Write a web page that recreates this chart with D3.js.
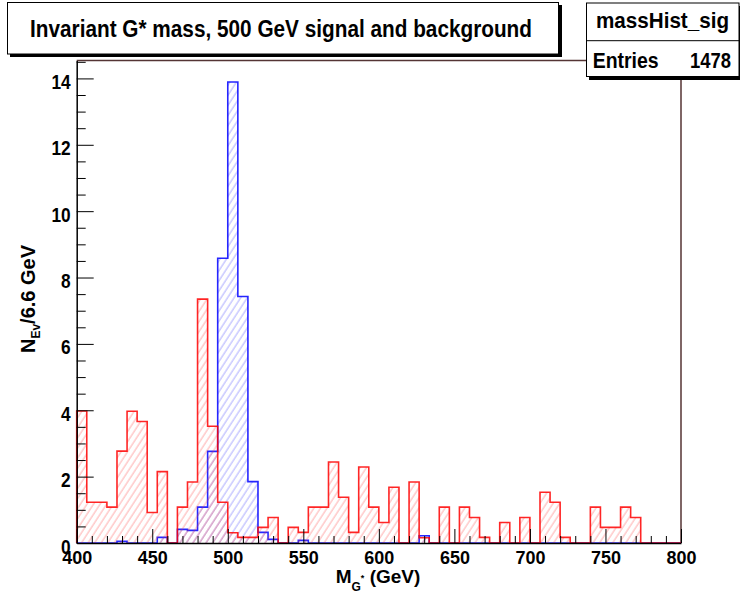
<!DOCTYPE html>
<html>
<head>
<meta charset="utf-8">
<script src="https://cdn.jsdelivr.net/npm/d3@7"></script>
<style>
  body { margin: 0; background: #fff; }
  svg { display: block; font-family: "Liberation Sans", Arial, Helvetica, sans-serif; font-weight: bold; }
</style>
</head>
<body>
<div id="chart"></div>
<script>
// histogram setup: 60 bins from 400 to 800 GeV
var xMin = 400, xMax = 800, nBins = 60;

// signal (blue), one value per bin
var sigValues = [
  0, 0, 0, 0, 0.05, 0, 0, 0, 0.17, 0,
  0.41, 0.38, 1.08, 2.76, 8.58, 13.89, 7.43, 1.85, 0.32, 0.11,
  0, 0, 0.08, 0, 0, 0, 0, 0, 0, 0,
  0, 0, 0, 0, 0.22, 0, 0, 0, 0, 0,
  0, 0, 0, 0, 0, 0, 0, 0, 0, 0,
  0, 0, 0, 0, 0, 0, 0, 0, 0, 0
];

// background (red), one value per bin
var bkgValues = [
  3.98, 1.23, 1.23, 1.08, 2.77, 3.97, 3.66, 0.92, 2.15, 0,
  1.08, 1.84, 7.35, 3.52, 1.23, 0.31, 0.17, 0.17, 0.47, 0.77,
  0, 0.47, 0.32, 1.08, 1.08, 2.44, 1.38, 0.32, 2.29, 1.08,
  0.62, 1.68, 0, 1.84, 0.16, 0, 1.08, 0, 1.08, 0.77,
  0.17, 0, 0.62, 0, 0.77, 0, 1.53, 1.23, 0.17, 0,
  0, 1.08, 0.47, 0.47, 1.08, 0.77, 0, 0, 0, 0
];

var xTicks = [400, 450, 500, 550, 600, 650, 700, 750, 800];
var yTicks = [0, 2, 4, 6, 8, 10, 12, 14];

var titleText = "Invariant G* mass, 500 GeV signal and background";
var statsName = "massHist_sig";
var statsEntries = 1478;

// set the dimensions of the frame
var W = 740, H = 599;
var frame = {left: 76.7, right: 681, top: 60.5, bottom: 543};

var svg = d3.select("#chart")
  .append("svg")
    .attr("width", W)
    .attr("height", H);

var x = d3.scaleLinear()
  .domain([xMin, xMax])
  .range([frame.left, frame.right]);

var y = d3.scaleLinear()
  .domain([0, 14.54])
  .range([frame.bottom, frame.top]);

// hatch patterns
var defs = svg.append("defs");
function hatch(id, color) {
  defs.append("pattern")
    .attr("id", id)
    .attr("patternUnits", "userSpaceOnUse")
    .attr("width", 5.5)
    .attr("height", 10)
    .attr("patternTransform", "rotate(33)")
  .append("line")
    .attr("x1", 1).attr("y1", 0)
    .attr("x2", 1).attr("y2", 10)
    .attr("stroke", color)
    .attr("stroke-width", 1);
}
hatch("hatchBlue", "rgba(60,60,255,0.42)");
hatch("hatchRed", "rgba(255,60,60,0.42)");

// turn bin values into step points
var binW = (xMax - xMin) / nBins;
function stepPoints(vals) {
  var pts = [[xMin, 0]];
  vals.forEach(function(v, i) {
    pts.push([xMin + i * binW, v]);
    pts.push([xMin + (i + 1) * binW, v]);
  });
  pts.push([xMax, 0]);
  return pts;
}

var area = d3.area()
  .x(function(d) { return x(d[0]); })
  .y0(y(0))
  .y1(function(d) { return y(d[1]); });

var line = d3.line()
  .x(function(d) { return x(d[0]); })
  .y(function(d) { return y(d[1]); });

// frame top/right
svg.append("path")
  .attr("d", "M" + frame.left + "," + frame.top + "H" + frame.right + "V" + frame.bottom)
  .attr("fill", "none")
  .attr("stroke", "#553535")
  .attr("stroke-width", 1.5);

// signal first, background on top
[[sigValues, "hatchBlue", "#0000ff"], [bkgValues, "hatchRed", "#ff0000"]].forEach(function(h) {
  var pts = stepPoints(h[0]);
  svg.append("path")
    .attr("d", area(pts))
    .attr("fill", "url(#" + h[1] + ")");
  svg.append("path")
    .attr("d", line(pts))
    .attr("fill", "none")
    .attr("stroke", h[2])
    .attr("stroke-width", 1.6)
    .attr("stroke-opacity", 0.85);
});

// Y axis - major + minor ticks pointing inward
var yMinor = d3.range(0, 14.51, 0.5).filter(function(v) { return v % 2 !== 0; });
svg.append("g")
  .attr("transform", "translate(" + frame.left + ",0)")
  .call(d3.axisLeft(y).tickValues(yMinor).tickSize(-9).tickSizeOuter(0).tickFormat(""))
  .call(function(g) { g.select(".domain").remove(); });

var yAxis = svg.append("g")
  .attr("transform", "translate(" + frame.left + ",0)")
  .call(d3.axisLeft(y).tickValues(yTicks).tickSize(-17).tickSizeOuter(0).tickPadding(6));
yAxis.select(".domain").attr("stroke-width", 1.5);
yAxis.selectAll("text")
  .attr("font-size", "20px")
  .attr("font-weight", "bold")
  .attr("font-family", "Liberation Sans, Arial, sans-serif")
  .attr("fill", "#000")
  .attr("dy", 10)
  .attr("textLength", function(d) { return String(d).length * 9.6; })
  .attr("lengthAdjust", "spacingAndGlyphs");

// X axis
var xMinor = d3.range(410, 800, 10).filter(function(v) { return v % 50 !== 0; });
svg.append("g")
  .attr("transform", "translate(0," + frame.bottom + ")")
  .call(d3.axisBottom(x).tickValues(xMinor).tickSize(-7).tickSizeOuter(0).tickFormat(""))
  .call(function(g) { g.select(".domain").remove(); });

var xAxis = svg.append("g")
  .attr("transform", "translate(0," + frame.bottom + ")")
  .call(d3.axisBottom(x).tickValues(xTicks).tickSize(-14).tickSizeOuter(0));
xAxis.select(".domain").attr("stroke-width", 1.5);
xAxis.selectAll("text")
  .attr("font-size", "18.5px")
  .attr("font-weight", "bold")
  .attr("font-family", "Liberation Sans, Arial, sans-serif")
  .attr("fill", "#000")
  .attr("y", 21)
  .attr("dy", 0)
  .attr("textLength", 30)
  .attr("lengthAdjust", "spacingAndGlyphs");

// axis titles
var xLabel = svg.append("text")
  .attr("x", 378)
  .attr("y", 583)
  .attr("font-size", "19px")
  .attr("text-anchor", "middle");
xLabel.append("tspan").text("M");
xLabel.append("tspan").attr("font-size", "12px").attr("dy", 8).text("G");
xLabel.append("tspan").attr("font-size", "9px").attr("dy", -10).text("*");
xLabel.append("tspan").attr("dy", 2).text(" (GeV)");

var yLabel = svg.append("text")
  .attr("transform", "translate(35,299) rotate(-90)")
  .attr("font-size", "20px")
  .attr("text-anchor", "middle");
yLabel.append("tspan").text("N");
yLabel.append("tspan").attr("font-size", "12px").attr("dy", 5).text("Ev");
yLabel.append("tspan").attr("dy", -5).text("/6.6 GeV");

// title box
svg.append("rect")
  .attr("x", 10).attr("y", 5)
  .attr("width", 552).attr("height", 52)
  .attr("fill", "#000");
svg.append("rect")
  .attr("x", 7.5).attr("y", 2.5)
  .attr("width", 551).attr("height", 51.5)
  .attr("fill", "#fff")
  .attr("stroke", "#000")
  .attr("stroke-width", 1);
svg.append("text")
  .attr("x", 281)
  .attr("y", 37.3)
  .attr("font-size", "23px")
  .attr("text-anchor", "middle")
  .attr("textLength", 502)
  .attr("lengthAdjust", "spacingAndGlyphs")
  .text(titleText);

// stats box
svg.append("rect")
  .attr("x", 589).attr("y", 6)
  .attr("width", 160).attr("height", 74)
  .attr("fill", "#000");
svg.append("rect")
  .attr("x", 586.5).attr("y", 3)
  .attr("width", 152.5).attr("height", 73.5)
  .attr("fill", "#fff")
  .attr("stroke", "#000")
  .attr("stroke-width", 1);
svg.append("line")
  .attr("x1", 586.5).attr("x2", 739)
  .attr("y1", 40.7).attr("y2", 40.7)
  .attr("stroke", "#000");
svg.append("text")
  .attr("x", 662.5)
  .attr("y", 28.3)
  .attr("font-size", "22px")
  .attr("text-anchor", "middle")
  .attr("textLength", 133)
  .attr("lengthAdjust", "spacingAndGlyphs")
  .text(statsName);
svg.append("text")
  .attr("x", 592.7)
  .attr("y", 68.3)
  .attr("font-size", "22px")
  .attr("textLength", 66)
  .attr("lengthAdjust", "spacingAndGlyphs")
  .text("Entries");
svg.append("text")
  .attr("x", 731)
  .attr("y", 68.3)
  .attr("font-size", "22px")
  .attr("text-anchor", "end")
  .attr("textLength", 41)
  .attr("lengthAdjust", "spacingAndGlyphs")
  .text(statsEntries);
</script>
</body>
</html>
